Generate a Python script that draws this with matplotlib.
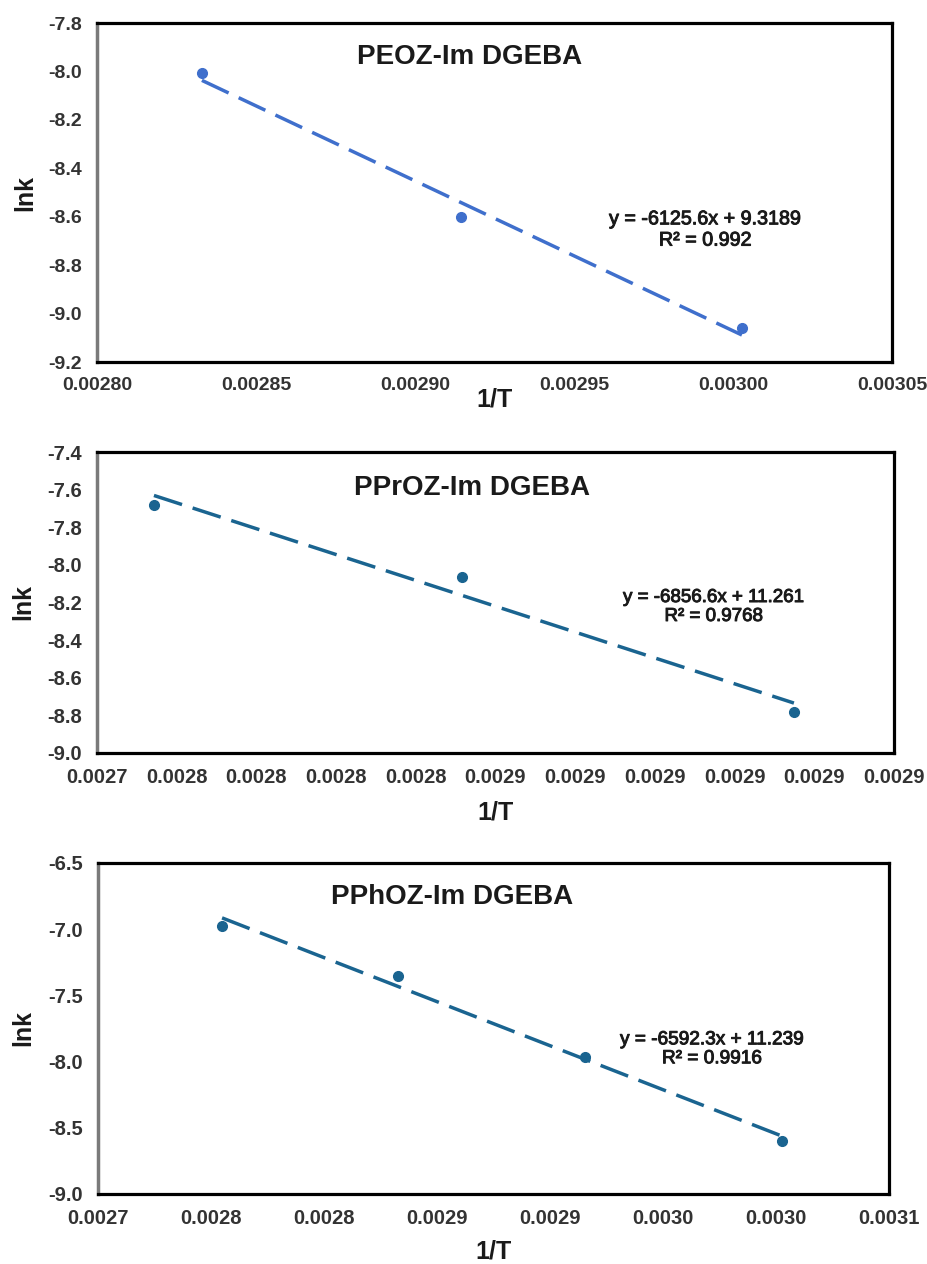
import numpy as np
import matplotlib
matplotlib.use("Agg")
import matplotlib.pyplot as plt
import matplotlib.patheffects as pe

plt.rcParams["font.family"] = ["Liberation Sans", "DejaVu Sans"]

# panel 1 : PEOZ-Im DGEBA
peoz_x = [0.002833, 0.0029145, 0.0030028]
peoz_y = [-8.006, -8.601, -9.060]
peoz_xticks = [0.00280, 0.00285, 0.00290, 0.00295, 0.00300, 0.00305]
peoz_xlabels = ["0.00280", "0.00285", "0.00290", "0.00295", "0.00300", "0.00305"]
peoz_yticks = [-9.2, -9.0, -8.8, -8.6, -8.4, -8.2, -8.0, -7.8]
peoz_eq = "y = -6125.6x + 9.3189\nR² = 0.992"

# panel 2 : PPrOZ-Im DGEBA
pproz_x = [0.0027643, 0.0028416, 0.0029249]
pproz_y = [-7.682, -8.064, -8.782]
pproz_xticks = [0.00275 + 0.00002 * i for i in range(11)]
pproz_xlabels = ["0.0027", "0.0028", "0.0028", "0.0028", "0.0028", "0.0029",
                 "0.0029", "0.0029", "0.0029", "0.0029", "0.0029"]
pproz_yticks = [-9.0, -8.8, -8.6, -8.4, -8.2, -8.0, -7.8, -7.6, -7.4]
pproz_eq = "y = -6856.6x + 11.261\nR² = 0.9768"

# panel 3 : PPhOZ-Im DGEBA
pphoz_x = [0.0028049, 0.0028827, 0.0029655, 0.0030527]
pphoz_y = [-6.976, -7.353, -7.965, -8.600]
pphoz_xticks = [0.00275, 0.00280, 0.00285, 0.00290, 0.00295, 0.00300, 0.00305, 0.00310]
pphoz_xlabels = ["0.0027", "0.0028", "0.0028", "0.0029", "0.0029", "0.0030", "0.0030", "0.0031"]
pphoz_yticks = [-9.0, -8.5, -8.0, -7.5, -7.0, -6.5]
pphoz_eq = "y = -6592.3x + 11.239\nR² = 0.9916"

fig = plt.figure(figsize=(9.28, 12.64), dpi=100)

panels = [
    dict(rect=[0.1045, 0.7136, 0.8567, 0.2682], x=peoz_x, y=peoz_y,
         xt=peoz_xticks, xl=peoz_xlabels, yt=peoz_yticks, yfmt="%.1f",
         title="PEOZ-Im DGEBA", tpos=(0.469, 0.900), eq=peoz_eq, epos=(0.765, 0.391), efs=14.2,
         color="#3F6FCC", xlpos=-0.112, ylpos=-0.090, tfs=14),
    dict(rect=[0.1045, 0.4043, 0.8588, 0.2381], x=pproz_x, y=pproz_y,
         xt=pproz_xticks, xl=pproz_xlabels, yt=pproz_yticks, yfmt="%.1f",
         title="PPrOZ-Im DGEBA", tpos=(0.4705, 0.880), eq=pproz_eq, epos=(0.774, 0.485), efs=13.5,
         color="#1A6490", xlpos=-0.199, ylpos=-0.093, tfs=14.5),
    dict(rect=[0.1056, 0.0554, 0.8524, 0.2619], x=pphoz_x, y=pphoz_y,
         xt=pphoz_xticks, xl=pphoz_xlabels, yt=pphoz_yticks, yfmt="%.1f",
         title="PPhOZ-Im DGEBA", tpos=(0.4475, 0.897), eq=pphoz_eq, epos=(0.776, 0.437), efs=13.7,
         color="#1A6490", xlpos=-0.175, ylpos=-0.095, tfs=14.5),
]

for p in panels:
    ax = fig.add_axes(p["rect"])
    x = np.array(p["x"])
    y = np.array(p["y"])
    ax.plot(x, y, "o", color=p["color"], ms=7, zorder=3)
    # linear trendline
    m, b = np.polyfit(x, y, 1)
    xx = np.array([x.min(), x.max()])
    ax.plot(xx, m * xx + b, color=p["color"], lw=2.5, dashes=(8.5, 3.2), zorder=2)

    ax.set_xlim(p["xt"][0], p["xt"][-1])
    ax.set_ylim(p["yt"][0], p["yt"][-1])
    ax.set_xticks(p["xt"])
    ax.set_xticklabels(p["xl"])
    ax.set_yticks(p["yt"])
    ax.set_yticklabels([p["yfmt"] % v for v in p["yt"]])
    ax.tick_params(length=0, labelsize=p["tfs"], labelcolor="#333333", pad=11)
    for lab in ax.get_xticklabels() + ax.get_yticklabels():
        lab.set_fontweight("bold")

    for s in ["top", "right", "bottom"]:
        ax.spines[s].set_color("black")
        ax.spines[s].set_linewidth(2.3)
    ax.spines["left"].set_color("#7a7a7a")
    ax.spines["left"].set_linewidth(2.5)

    ax.text(p["tpos"][0], p["tpos"][1], p["title"], transform=ax.transAxes,
            ha="center", va="center", fontsize=20, fontweight="bold", color="#1a1a1a")
    ax.text(p["epos"][0], p["epos"][1], p["eq"], transform=ax.transAxes,
            ha="center", va="center", fontsize=p["efs"], color="#1a1a1a",
            linespacing=1.15,
            path_effects=[pe.withStroke(linewidth=0.7, foreground="#1a1a1a")])
    ax.text(0.5, p["xlpos"], "1/T", transform=ax.transAxes, ha="center", va="center",
            fontsize=18, fontweight="bold", color="#1a1a1a")
    ax.text(p["ylpos"], 0.5, "lnk", transform=ax.transAxes, ha="center", va="center",
            rotation=90, fontsize=18, fontweight="bold", color="#1a1a1a")

fig.savefig("out.png", dpi=100)
